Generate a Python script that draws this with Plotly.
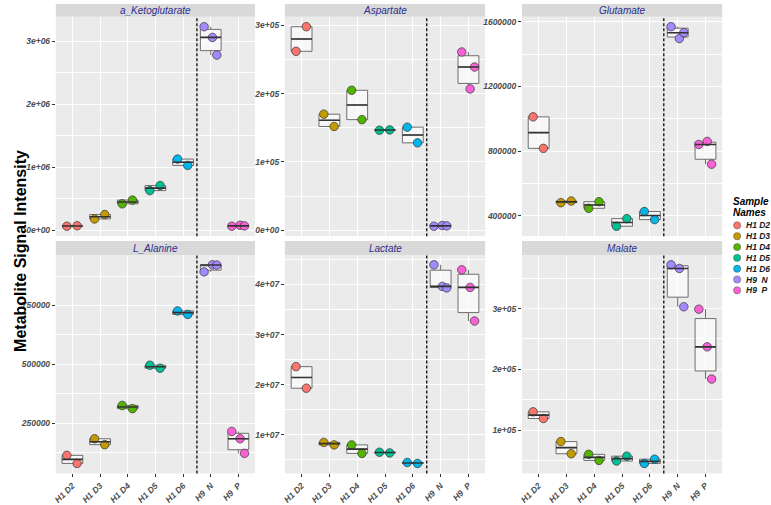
import numpy as np
import plotly.graph_objects as go

# ---------------- data ----------------
GROUPS = ["H1 D2", "H1 D3", "H1 D4", "H1 D5", "H1 D6", "H9  N", "H9  P"]
COLORS = ["#F8766D", "#C49A00", "#53B400", "#00C094", "#00B6EB", "#A58AFF", "#FB61D7"]
METABOLITES = ["a_Ketoglutarate", "Aspartate", "Glutamate", "L_Alanine", "Lactate", "Malate"]

KETOGLUTARATE = [[65000, 72000], [180000, 250000], [420000, 480000], [630000, 710000],
                 [1130000, 1030000], [3230000, 3060000, 2780000], [65000, 80000, 70000]]
ASPARTATE = [[262000, 298000], [170000, 152000], [205000, 162000], [146500, 147000],
             [151000, 128000], [6000, 7000, 6500], [261000, 207000, 239000]]
GLUTAMATE = [[1012000, 817000], [481000, 491000], [446000, 487000], [335000, 382000],
             [426000, 376000], [1570000, 1497000, 1533000], [841000, 860000, 719000]]
L_ALANINE = [[112500, 78000], [183000, 158000], [325000, 311000], [496000, 483000],
             [727000, 712000], [893000, 923000, 922000], [214000, 183000, 121000]]
LACTATE = [[23600000, 19300000], [8500000, 8000000], [8000000, 6300000], [6540000, 6400000],
           [4500000, 4300000], [43900000, 39600000, 39300000], [42900000, 39400000, 32700000]]
MALATE = [[130000, 119000], [81000, 61000], [60000, 50000], [49000, 57000],
          [45000, 52000], [372000, 366000, 303000], [299000, 237000, 184000]]

PANEL_DATA = [KETOGLUTARATE, ASPARTATE, GLUTAMATE, L_ALANINE, LACTATE, MALATE]

KETO_TICKS = [0, 1e6, 2e6, 3e6]
ASP_TICKS = [0, 1e5, 2e5, 3e5]
GLU_TICKS = [400000, 800000, 1200000, 1600000]
ALA_TICKS = [250000, 500000, 750000]
LAC_TICKS = [1e7, 2e7, 3e7, 4e7]
MAL_TICKS = [1e5, 2e5, 3e5]
PANEL_TICKS = [KETO_TICKS, ASP_TICKS, GLU_TICKS, ALA_TICKS, LAC_TICKS, MAL_TICKS]
PANEL_SCI = [True, True, False, False, True, True]

Y_TITLE = "Metabolite Signal Intensity"
LEGEND_TITLE = ["Sample", "Names"]

# ---------------- style / layout ----------------
W, H = 771, 505
FONT = "Liberation Sans, Arial, sans-serif"
COL_X = [(53, 253), (283, 484), (521, 722)]
ROW_Y = [(17, 240), (259, 481)]          # plot area (px from top)
STRIP_Y = [(4, 17), (245, 259)]
JIT = {2: [-0.2, 0.17], 3: [-0.24, 0.06, 0.22]}
BOX_W = 0.75
TICK_FONT = dict(family=FONT, size=8.5, color="#4D4D4D", style="italic", weight="bold")


def px_x(v):
    return v / W


def px_y(v):
    return 1 - v / H


def fmt_tick(v, sci):
    if sci:
        return format(v, ".0e")
    return str(int(v))


fig = go.Figure()
layout = dict(
    width=W, height=H, margin=dict(l=0, r=0, t=0, b=0),
    paper_bgcolor="white", plot_bgcolor="#EBEBEB",
    showlegend=False, boxmode="overlay",
    font=dict(family=FONT, size=9, color="#4D4D4D"),
)
shapes = []
annotations = []

for i, (name, data) in enumerate(zip(METABOLITES, PANEL_DATA)):
    r, c = divmod(i, 3)
    ax = "" if i == 0 else str(i + 1)
    xref, yref = "x" + ax, "y" + ax

    # points (drawn first, boxes go over them semi-transparently)
    for g, vals in enumerate(data):
        offs = JIT[len(vals)]
        fig.add_trace(go.Scatter(
            x=[g + 1 + o for o in offs], y=vals, mode="markers",
            marker=dict(size=8.5, color=COLORS[g], line=dict(color="#333333", width=0.7)),
            xaxis=xref, yaxis=yref, hoverinfo="y", name=GROUPS[g]))
    for g, vals in enumerate(data):
        fig.add_trace(go.Box(
            x=[g + 1] * len(vals), y=vals, width=BOX_W, boxpoints=False,
            quartilemethod="linear", whiskerwidth=0,
            fillcolor="rgba(255,255,255,0.6)", line=dict(color="#6E6E6E", width=1),
            xaxis=xref, yaxis=yref, name=GROUPS[g], hoverinfo="skip"))
        med = float(np.median(vals))
        fig.add_trace(go.Scatter(
            x=[g + 1 - BOX_W / 2, g + 1 + BOX_W / 2], y=[med, med], mode="lines",
            line=dict(color="#333333", width=1.6), xaxis=xref, yaxis=yref,
            hoverinfo="skip"))

    allv = [v for vals in data for v in vals]
    lo, hi = min(allv), max(allv)
    pad = 0.05 * (hi - lo)
    ticks = PANEL_TICKS[i]
    step = ticks[1] - ticks[0]

    x0, x1 = COL_X[c]
    y0, y1 = ROW_Y[r]
    layout["xaxis" + ax] = dict(
        domain=[px_x(x0), px_x(x1)], anchor=yref, range=[0.4, 7.6],
        tickmode="array", tickvals=list(range(1, 8)),
        ticktext=[s.replace("  ", "\u00a0 ") for s in GROUPS],
        showticklabels=(r == 1), ticks="outside" if r == 1 else "",
        ticklen=3, tickcolor="#333333", tickangle=-45, tickfont=TICK_FONT,
        showgrid=True, gridcolor="white", gridwidth=1.1, zeroline=False, showline=False,
    )
    layout["yaxis" + ax] = dict(
        domain=[px_y(y1), px_y(y0)], anchor=xref, range=[lo - pad, hi + pad],
        tickmode="array", tickvals=ticks,
        ticktext=[fmt_tick(v, PANEL_SCI[i]) for v in ticks],
        ticks="outside", ticklen=3, tickcolor="#333333", tickfont=TICK_FONT,
        showgrid=True, gridcolor="white", gridwidth=1.1, zeroline=False, showline=False,
        minor=dict(tickmode="linear", tick0=ticks[0], dtick=step / 2, showgrid=True,
                   gridcolor="white", gridwidth=0.5, ticks=""),
    )

    # dashed separator between H1 and H9 groups
    shapes.append(dict(type="line", xref=xref, yref=yref + " domain", x0=5.5, x1=5.5,
                       y0=0, y1=1, line=dict(color="#1A1A1A", width=1.4, dash="3px,2px")))
    # facet strip
    s0, s1 = STRIP_Y[r]
    shapes.append(dict(type="rect", xref="paper", yref="paper", x0=px_x(x0), x1=px_x(x1),
                       y0=px_y(s1), y1=px_y(s0), fillcolor="#D9D9D9", line=dict(width=0),
                       layer="below"))
    annotations.append(dict(text=name, xref="paper", yref="paper",
                            x=px_x((x0 + x1) / 2), y=px_y((s0 + s1) / 2),
                            showarrow=False, xanchor="center", yanchor="middle",
                            font=dict(family=FONT, size=10, color="#2E2E8F", style="italic")))

# y-axis title
annotations.append(dict(text=Y_TITLE, xref="paper", yref="paper", x=px_x(18), y=px_y(255),
                        textangle=-90, showarrow=False, xanchor="center", yanchor="middle",
                        font=dict(family=FONT, size=16, color="black", weight="bold")))

# legend (drawn manually to match ggplot spacing)
for k, line in enumerate(LEGEND_TITLE):
    annotations.append(dict(text=line, xref="paper", yref="paper", x=px_x(731),
                            y=px_y(205 + k * 10.5), showarrow=False, xanchor="left",
                            yanchor="middle",
                            font=dict(family=FONT, size=10, color="black", style="italic",
                                      weight="bold")))
for g, (lab, col) in enumerate(zip(GROUPS, COLORS)):
    yc = 229 + g * 11
    shapes.append(dict(type="circle", xref="paper", yref="paper",
                       xsizemode="pixel", ysizemode="pixel",
                       xanchor=px_x(737), yanchor=px_y(yc), x0=-3.6, x1=3.6, y0=-3.6, y1=3.6,
                       fillcolor=col, line=dict(color="#555555", width=0.5)))
    annotations.append(dict(text=lab.replace("  ", "\u00a0 "), xref="paper", yref="paper",
                            x=px_x(744), y=px_y(yc), showarrow=False,
                            xanchor="left", yanchor="middle",
                            font=dict(family=FONT, size=8.5, color="#1A1A1A", style="italic",
                                      weight="bold")))

layout["shapes"] = shapes
layout["annotations"] = annotations
fig.update_layout(**layout)
fig.write_html("out.html", config={"displayModeBar": False},
               post_script="document.body.style.margin='0';document.body.style.padding='0';")
